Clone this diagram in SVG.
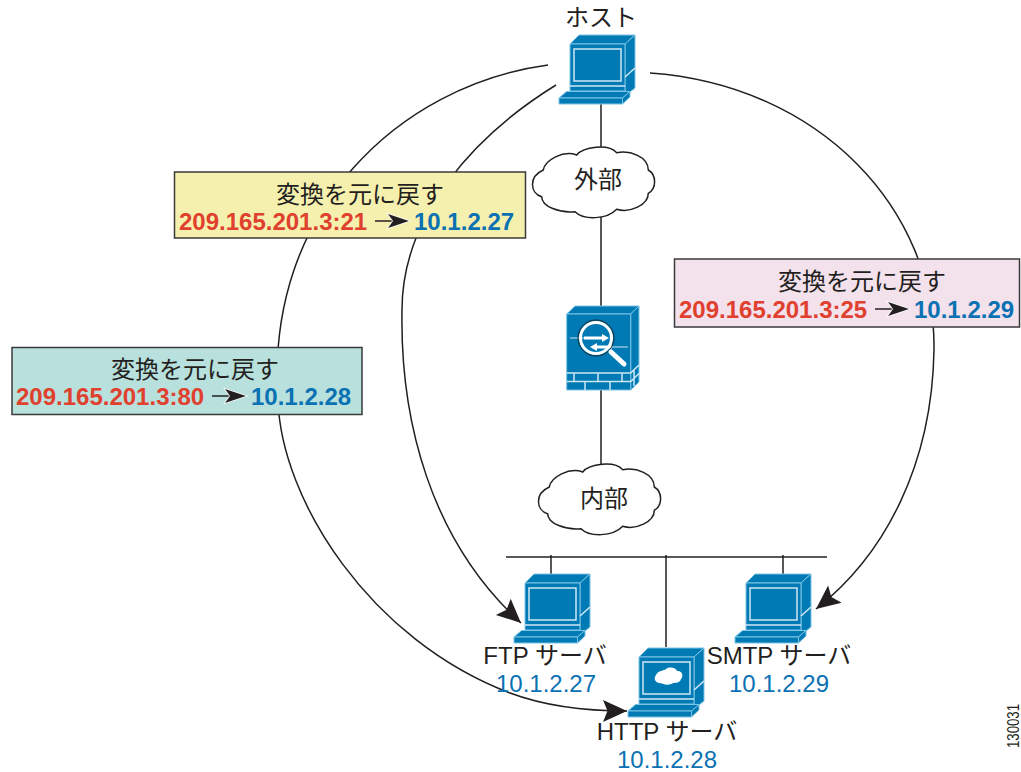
<svg xmlns="http://www.w3.org/2000/svg" width="1021" height="772" viewBox="0 0 1021 772">
<style>
text{font-family:"Liberation Sans","Noto Sans CJK JP",sans-serif;font-size:24px;fill:#231f20;text-anchor:middle}
.r{fill:#e0402e;font-weight:bold;text-anchor:start}
.b{fill:#0a71b3;font-weight:bold;text-anchor:start}
.ip{fill:#0a71b3}
.l{fill:none;stroke:#231f20;stroke-width:1.5}
.box{stroke:#3a3a3a;stroke-width:1.5}
.c{fill:#007ab5;stroke:#7cc4e4;stroke-width:1;stroke-linejoin:round}
.w{fill:none;stroke:#cfe8f4;stroke-width:1.5}
.cl{fill:#fff;stroke:#231f20;stroke-width:1.5}
.ha{fill:#231f20;stroke:#fff;stroke-width:1.5;paint-order:stroke}
</style>
<defs>
<marker id="ah" markerUnits="userSpaceOnUse" markerWidth="30" markerHeight="30" refX="24" refY="12" orient="auto"><path d="M24,12 L0,1 L4.500,12 L0,23 Z" fill="#231f20"/></marker>
<g id="pc">
<path class="c" d="M0,0 L9,-9 L65,-9 L55,0 Z"/>
<path class="c" d="M55,0 L65,-9 L65,44 L55,52 Z"/>
<path class="c" d="M0,0 H55 V47 H0 Z"/>
<path class="w" d="M0,42 H55"/>
<path class="c" d="M-11,54 L-3.500,47.500 L60,47.500 L52.500,54 Z"/>
<path class="c" d="M52.500,54 L60,47.500 V53 L52.500,60 Z"/>
<path class="c" d="M-11,54 H52.500 V60 H-11 Z"/>
<path class="w" d="M55,33 L65,24"/>
<rect class="w" x="4" y="5" width="47" height="32"/>
</g>
<path id="cloud" d="M11.300,22 C13,12 31.300,2 44.700,7 C51.300,-1.300 76.300,-4.700 84.700,4.700 C98,2 116.300,8.700 116.300,22 C124.700,27 124.700,40.300 116.300,45.300 C116.300,57 98,65.300 84.700,61.300 C74.700,72 51.300,72 43,63.700 C28,65.300 9.700,58.700 9.700,48.700 C-2,45.300 -3.700,28.700 11.300,22 Z"/>
</defs>
<g id="connectors">
<path class="l" d="M601,104 V152"/>
<path class="l" d="M601,215 V306"/>
<path class="l" d="M601,390 V466"/>
<path class="l" d="M506,557 H827"/>
<path class="l" d="M551,555 V574"/>
<path class="l" d="M666,555 V647"/>
<path class="l" d="M783,555 V574"/>
<path class="l" d="M548,65 C400,85 265,210 278,400 C281,500 370,640 510,693 C550,708 590,711 627,711" marker-end="url(#ah)"/>
<path class="l" d="M556,85 C475,135 402,215 402,310 C400,420 430,540 521,623" marker-end="url(#ah)"/>
<path class="l" d="M650,73 C820,85 936,210 934,350 C932,465 885,555 816,609" marker-end="url(#ah)"/>
</g>
<g id="host">
<use href="#pc" x="570" y="44"/>
<text x="601" y="26">ホスト</text>
</g>
<g id="external">
<use href="#cloud" class="cl" x="532" y="148"/>
<text x="598" y="188">外部</text>
</g>
<g id="firewall">
<path class="c" d="M566.700,314 L575,306 H639 L630.700,314 Z"/>
<path class="c" d="M630.700,314 L639,306 V382 L630.700,390 Z"/>
<path class="c" d="M566.700,314 H630.700 V390 H566.700 Z"/>
<path d="M566.700,373 H630.700 L639,365 M566.700,381.500 H630.700 L639,373.500 M574,373 V381.500 M598,373 V381.500 M622,373 V381.500 M585,381.500 V390 M610,381.500 V390 M634,369 V386" fill="none" stroke="#cfe8f4" stroke-width="1.500"/>
<path d="M570,338 H607 M628,347 H592" stroke="#cfe8f4" stroke-width="1.200" fill="none"/>
<path d="M584,336.500 H602 V334 L609,338 L602,342 V339.500 H584 Z M612,345.500 H597 V343 L590,347 L597,351 V348.500 H612 Z" fill="#fff"/>
<circle cx="596" cy="338" r="15.500" fill="none" stroke="#fff" stroke-width="3"/>
<circle cx="596" cy="338" r="18" fill="none" stroke="#1b2a33" stroke-width="1"/>
<path d="M611,352 L624,364" stroke="#fff" stroke-width="5" stroke-linecap="round"/>
</g>
<g id="internal">
<use href="#cloud" class="cl" x="538" y="465"/>
<text x="604" y="507">内部</text>
</g>
<g id="ftp">
<use href="#pc" x="525" y="583"/>
<text x="545" y="664">FTP サーバ</text>
<text class="ip" x="546" y="692">10.1.2.27</text>
</g>
<g id="http">
<use href="#pc" x="639" y="657"/>
<path d="M656,675 C658,670 664,671 666,669 C670,666 676,668 677,671 C682,670 684,676 681,679 C680,684 674,682 671,684 C666,686 662,683 659,683 C654,682 654,677 656,675 Z" fill="#fff"/>
<text x="667" y="740">HTTP サーバ</text>
<text class="ip" x="667" y="768">10.1.2.28</text>
</g>
<g id="smtp">
<use href="#pc" x="746" y="583"/>
<text x="779" y="664">SMTP サーバ</text>
<text class="ip" x="779" y="692">10.1.2.29</text>
</g>
<g id="label-ftp">
<rect class="box" x="174.500" y="172" width="351" height="66" fill="#f6f0ae"/>
<text x="360" y="203">変換を元に戻す</text>
<text class="r" x="179" y="230">209.165.201.3:21</text>
<path d="M375,221 H393" stroke="#231f20" stroke-width="1.500"/>
<path class="ha" d="M409,221 L388,214 L393,221 L388,228 Z"/>
<text class="b" x="414" y="230">10.1.2.27</text>
</g>
<g id="label-smtp">
<rect class="box" x="674.500" y="259" width="345" height="68" fill="#f3e1ec"/>
<text x="862" y="290">変換を元に戻す</text>
<text class="r" x="679" y="318">209.165.201.3:25</text>
<path d="M875,309 H893" stroke="#231f20" stroke-width="1.500"/>
<path class="ha" d="M909,309 L888,302 L893,309 L888,316 Z"/>
<text class="b" x="914" y="318">10.1.2.29</text>
</g>
<g id="label-http">
<rect class="box" x="12" y="347.500" width="350" height="67" fill="#b8e0dc"/>
<text x="195" y="378">変換を元に戻す</text>
<text class="r" x="16" y="405">209.165.201.3:80</text>
<path d="M212,396 H230" stroke="#231f20" stroke-width="1.500"/>
<path class="ha" d="M246,396 L225,389 L230,396 L225,403 Z"/>
<text class="b" x="251" y="405">10.1.2.28</text>
</g>
<text x="1019" y="726" style="font-size:16px" textLength="44" lengthAdjust="spacingAndGlyphs" transform="rotate(-90 1019 726)">130031</text>
</svg>
